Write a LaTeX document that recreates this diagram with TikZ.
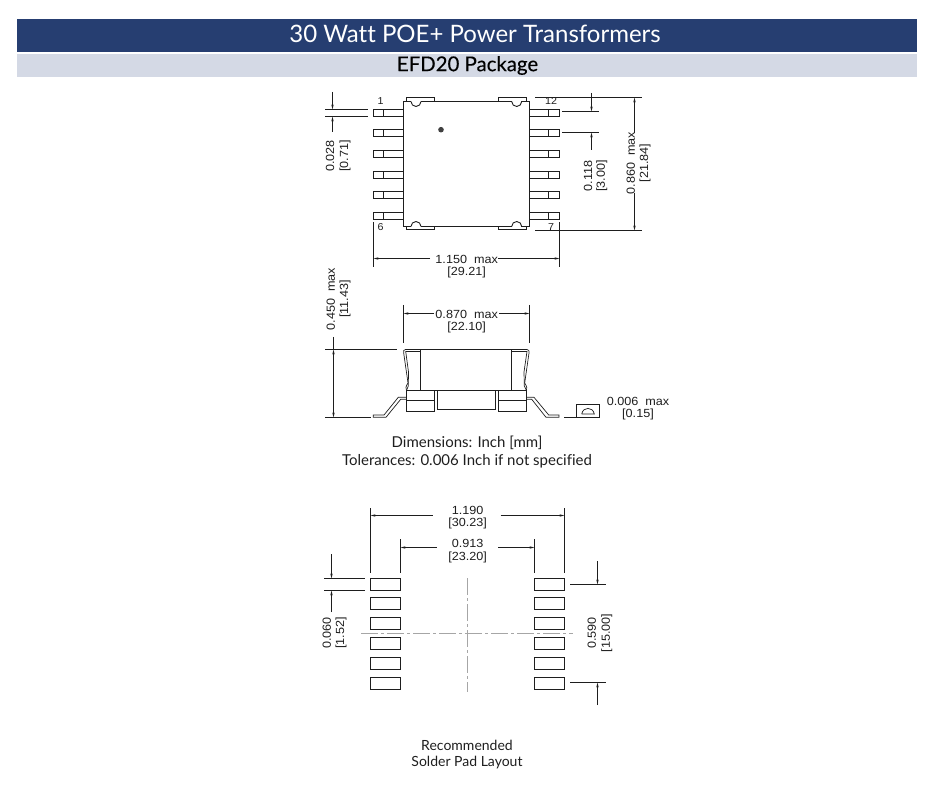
\documentclass[tikz,border=0pt]{standalone}
\usepackage{fontspec}
\setmainfont[Ligatures=NoCommon]{Lato}
\newfontfamily\dimfont[FakeStretch=1.07]{Liberation Sans}
\usetikzlibrary{arrows.meta}
\definecolor{navy}{RGB}{38,62,113}
\definecolor{pale}{RGB}{212,217,229}
\definecolor{ink}{RGB}{30,30,30}
\tikzset{
  part/.style={draw=ink,line width=1pt,fill=white},
  thin/.style={draw=ink,line width=0.7pt},
  dimline/.style={draw=ink,line width=0.7pt,-{Stealth[length=5pt,width=2.4pt]}},
  dimtext/.style={font=\dimfont\fontsize{11.8}{14}\selectfont,text=ink,inner sep=0pt,align=center},
  pinlabel/.style={font=\dimfont\fontsize{10}{12}\selectfont,text=ink,inner sep=0pt},
  caption/.style={font=\fontsize{15}{17}\selectfont,text=ink,inner sep=0pt},
  smallcap/.style={font=\fontsize{14}{17}\selectfont,text=ink,inner sep=0pt},
  axis/.style={draw=black!35,line width=0.9pt,dash pattern=on 17pt off 3pt on 3pt off 3pt},
}
\begin{document}
\begin{tikzpicture}[x=1pt,y=-1pt]
\useasboundingbox (0,0) rectangle (938,805);
% banners
\fill[navy] (17,19) rectangle (917,52);
\fill[pale] (17,54) rectangle (917,77);
\node[text=white,font=\fontsize{24}{26}\selectfont,inner sep=0pt] (title) at (475,34) {30 Watt POE+ Power Transformers};
\node[text=black,font=\fontsize{20.4}{22}\selectfont,inner sep=0pt] (subtitle) at (467.5,65.5) {\addfontfeature{FakeBold=0.2}EFD20 Package};
% ---------- top view
\foreach \y in {109.5,129.5,150.5,171.5,191.5,212.5}{
  \draw[part] (373.5,\y) rectangle (403.5,\y+7);
  \draw[thin] (383.5,\y) -- (383.5,\y+7);
  \draw[part] (529.5,\y) rectangle (559.5,\y+7);
  \draw[thin] (548.5,\y) -- (548.5,\y+7);
}
\foreach \a/\b in {406.5/434.5,498.5/526.5}{
  \draw[part] (\a,101.5) -- (\a,97.5) -- (\b,97.5) -- (\b,101.5);
  \draw[part] (\a,226.5) -- (\a,229.5) -- (\b,229.5) -- (\b,226.5);
}
\draw[part] (403.5,101.5) rectangle (529.5,226.5);
\foreach \c in {416,516.7}{
  \draw[white,line width=1.6pt] (\c-4.6,101.5) -- (\c+4.6,101.5);
  \draw[white,line width=1.6pt] (\c-4.6,226.5) -- (\c+4.6,226.5);
  \draw[thin,line width=0.9pt] (\c-5,101.5) arc[start angle=180,end angle=0,radius=5];
  \draw[thin,line width=0.9pt] (\c-5,226.5) arc[start angle=180,end angle=360,radius=5];
}
\fill[ink!85] (441,129.7) circle (2.8);
\node[pinlabel] (p1) at (380.7,101.5) {1};
\node[pinlabel] (p12) at (551,101.5) {12};
\node[pinlabel] (p6) at (380.7,227) {6};
\node[pinlabel] (p7) at (551,227) {7};
% 0.028
\draw[thin] (325,109.5) -- (368,109.5) (325,116.5) -- (368,116.5);
\draw[dimline] (332.5,92) -- (332.5,109.5);
\draw[dimline] (332.5,132) -- (332.5,116.5);
\node[dimtext,rotate=90] (d028) at (330,156) {0.028};
\node[dimtext,rotate=90] (d071) at (345,156) {[0.71]};
% 0.118
\draw[thin] (562,111.5) -- (599,111.5) (562,132.5) -- (599,132.5);
\draw[dimline] (591.5,93) -- (591.5,111.5);
\draw[dimline] (591.5,150) -- (591.5,132.5);
\node[dimtext,rotate=90] (d118) at (588,176) {0.118};
\node[dimtext,rotate=90] (d300) at (601.7,176) {[3.00]};
% 0.860
\draw[thin] (535,97.5) -- (642,97.5) (535,230.5) -- (642,230.5);
\draw[dimline] (634.5,133) -- (634.5,97.5);
\draw[dimline] (634.5,193) -- (634.5,230.5);
\node[dimtext,rotate=90] (d860) at (630.7,163) {0.860\ \ max};
\node[dimtext,rotate=90] (d2184) at (645,163) {[21.84]};
% 1.150
\draw[thin] (373.5,222) -- (373.5,267) (559.5,222) -- (559.5,267);
\draw[dimline] (430,258.5) -- (373.5,258.5);
\draw[dimline] (498,258.5) -- (559.5,258.5);
\node[dimtext] (d1150) at (466.7,259) {1.150\ \ max};
\node[dimtext] (d2921) at (466.7,272.5) {[29.21]};
% ---------- side view
\draw[part] (406.5,390.5) rectangle (434.5,411.5);
\draw[thin] (406.5,400.5) -- (434.5,400.5);
\draw[part] (498.5,390.5) rectangle (526.5,411.5);
\draw[thin] (498.5,400.5) -- (526.5,400.5);
\draw[part] (437.5,390.5) -- (437.5,409.5) -- (495.5,409.5) -- (495.5,390.5);
\draw[thin] (420.5,349.5) rectangle (511.5,390.5);
\draw[thin] (406.5,390.5) -- (420.5,390.5) (511.5,390.5) -- (526.5,390.5);
\draw[thin] (420.5,349.5) -- (405.5,349.5) .. controls (403.5,349.5) and (403.3,351) .. (403.7,353) -- (408,383) .. controls (406,386) and (405,389) .. (406.5,390.5);
\draw[thin] (420.5,351.5) -- (405.7,351.5) -- (408.5,372) -- (408.3,386) -- (406.5,390.5);
\draw[thin] (511.5,349.5) -- (527,349.5) .. controls (529,349.5) and (529.3,351) .. (529,353) -- (524.7,383) .. controls (526.7,386) and (527.5,389) .. (526.5,390.5);
\draw[thin] (511.5,351.5) -- (527,351.5) -- (524,372) -- (524.3,386) -- (526.5,390.5);
\draw[thin] (406.5,397.3) -- (398.3,397.3) -- (384,415) -- (373.3,415) -- (373.3,417.3) -- (386,417.3) -- (400.7,399.3) -- (406.5,399.3);
\draw[thin] (526.5,397.3) -- (534,397.3) -- (548.7,415) -- (559,415) -- (559,417.3) -- (546,417.3) -- (531.7,399.3) -- (526.5,399.3);
% 0.870
\draw[thin] (403.5,305) -- (403.5,343.3) (529.5,305) -- (529.5,343.3);
\draw[dimline] (434,313.5) -- (403.5,313.5);
\draw[dimline] (499,313.5) -- (529.5,313.5);
\node[dimtext] (d870) at (466.7,314) {0.870\ \ max};
\node[dimtext] (d2210) at (466.7,327) {[22.10]};
% 0.450
\draw[thin] (325,349.5) -- (397,349.5) (325,417.5) -- (371,417.5);
\draw[thin] (333.5,337) -- (333.5,349.5);
\draw[thin,{Stealth[length=5pt,width=2.4pt]}-{Stealth[length=5pt,width=2.4pt]}] (333.5,349.5) -- (333.5,417.5);
\node[dimtext,rotate=90] (d450) at (330.7,299) {0.450\ \ max};
\node[dimtext,rotate=90] (d1143) at (345,299) {[11.43]};
% 0.006
\draw[thin] (564,417.5) -- (576.5,417.5);
\draw[thin] (576.5,404.5) rectangle (599.5,417.5);
\draw[thin] (581.7,414) -- (594.3,414) .. controls (593,406.5) and (583,406.5) .. (581.7,414);
\node[dimtext] (d006) at (638,401.5) {0.006\ \ max};
\node[dimtext] (d015) at (638,414.5) {[0.15]};
\node[caption] (cap1) at (467,443) {Dimensions: Inch [mm]};
\node[caption] (cap2) at (467,461) {Tolerances: 0.006 Inch if not specified};
% ---------- solder pads
\foreach \y in {578.5,597.5,617.5,637.5,657.5,677.5}{
  \draw[part] (370.5,\y) rectangle (400.5,\y+12);
  \draw[part] (534.5,\y) rectangle (564.5,\y+12);
}
\draw[axis] (361,633.5) -- (573,633.5);
\draw[axis] (467.5,578) -- (467.5,692);
% 1.190
\draw[thin] (370.5,508) -- (370.5,573) (564.5,508) -- (564.5,573);
\draw[dimline] (432.7,515.5) -- (370.5,515.5);
\draw[dimline] (500.7,515.5) -- (564.5,515.5);
\node[dimtext] (d1190) at (467.7,510) {1.190};
\node[dimtext] (d3023) at (467.7,523.5) {[30.23]};
% 0.913
\draw[thin] (400.5,539.3) -- (400.5,573) (534.5,539.3) -- (534.5,573);
\draw[dimline] (436.7,547.5) -- (400.5,547.5);
\draw[dimline] (498.3,547.5) -- (534.5,547.5);
\node[dimtext] (d913) at (467.7,543) {0.913};
\node[dimtext] (d2320) at (467.7,557.5) {[23.20]};
% 0.060
\draw[thin] (324,578.5) -- (365,578.5) (324,590.5) -- (365,590.5);
\draw[dimline] (331.5,554.3) -- (331.5,578.5);
\draw[dimline] (331.5,612) -- (331.5,590.5);
\node[dimtext,rotate=90] (d060) at (326.7,633) {0.060};
\node[dimtext,rotate=90] (d152) at (341,633) {[1.52]};
% 0.590
\draw[thin] (570,584.5) -- (605.7,584.5) (570,682.5) -- (605.7,682.5);
\draw[dimline] (597.5,561) -- (597.5,584.5);
\draw[dimline] (597.5,705) -- (597.5,682.5);
\node[dimtext,rotate=90] (d590) at (591.7,633) {0.590};
\node[dimtext,rotate=90] (d1500) at (606.7,633) {[15.00]};
\node[smallcap] (cap3) at (467,745) {Recommended};
\node[smallcap] (cap4) at (467,762.5) {Solder Pad Layout};
\end{tikzpicture}
\end{document}
